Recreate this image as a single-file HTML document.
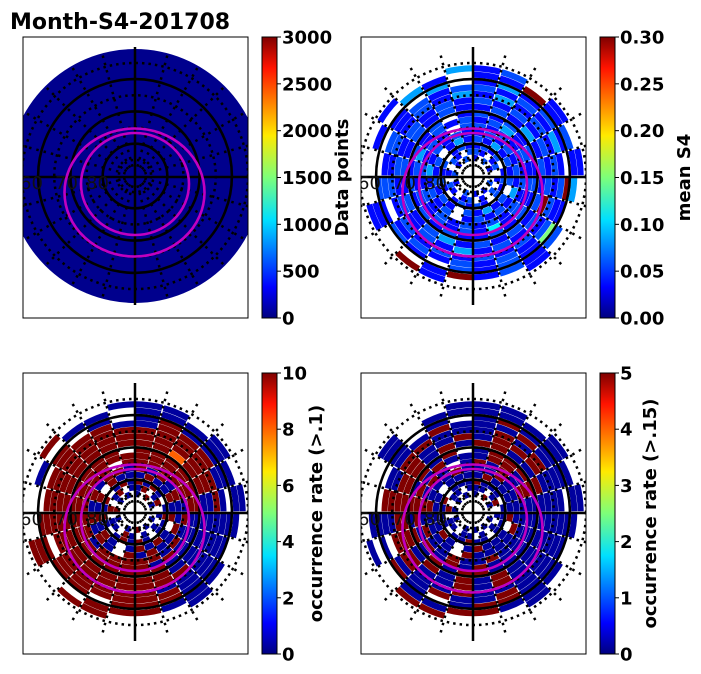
<!DOCTYPE html>
<html><head><meta charset="utf-8"><style>
html,body{margin:0;padding:0;background:#fff;}
svg{display:block;font-family:"DejaVu Sans","Liberation Sans",sans-serif;}
</style></head><body>
<svg id="chart" width="701" height="674" viewBox="0 0 701 674" xmlns="http://www.w3.org/2000/svg">
<defs>
<linearGradient id="jet" x1="0" y1="1" x2="0" y2="0">
<stop offset="0" stop-color="#000080"/><stop offset="0.11" stop-color="#0000ff"/><stop offset="0.35" stop-color="#00e0ff"/><stop offset="0.5" stop-color="#7dff7a"/><stop offset="0.65" stop-color="#ffea00"/><stop offset="0.89" stop-color="#ff1300"/><stop offset="1" stop-color="#800000"/>
</linearGradient>
<clipPath id="c0"><rect x="23" y="37" width="225" height="281"/></clipPath>
<clipPath id="c1"><rect x="361" y="37" width="225" height="281"/></clipPath>
<clipPath id="c2"><rect x="23" y="373" width="225" height="281"/></clipPath>
<clipPath id="c3"><rect x="361" y="373" width="225" height="281"/></clipPath>
</defs>
<text x="10" y="29" font-size="22" font-weight="bold">Month-S4-201708</text>
</svg>
<script>
// ---- data ----
const cbarTicks1 = ["0","500","1000","1500","2000","2500","3000"];
const cbarTicks2 = ["0.00","0.05","0.10","0.15","0.20","0.25","0.30"];
const cbarTicks3 = ["0","2","4","6","8","10"];
const cbarTicks4 = ["0","1","2","3","4","5"];
const cbarLabels = ["Data points","mean S4","occurrence rate (>.1)","occurrence rate (>.15)"];
const latLabels = ["60","70","80"];
const panel1Value = 40; // data points (nearly uniform, low)
const s4CodeValues = [0.0,0.02,0.04,0.06,0.085,0.11,0.15,0.2,0.25,0.3];
const occ1CodeValues = [0.3,1.1,2.2,3.3,4.4,5.6,6.7,7.8,8.9,10];
const occ2CodeValues = [0.15,0.55,1.1,1.7,2.2,2.8,3.3,3.9,4.4,5];
const meanS4Rings = [
"2.3.2..3.2.2.3..2.3.2.3.",
"32.23.2.3.2.32.23.2.32.3",
"2323.2323.23232.2323.232",
"3242323.32423.232323.242",
"2323232423232.3232423232",
"3232323232323232323232.3",
"234232323252323232342323",
"3232323232322323232323 2",
"232423232323243232323232",
"323232393232423232323232",
"242323232323232323232324",
"3232423232323232.3232323",
"24232.9262323.2323..2.4.",
"2292324.323292..2..2.42.",
"23.2.2...2...29.2...2..4"];
const occ1Rings = [
"0.9.0..0.0.9.0..0.9.0.0.",
"09.09.0.0.0.09.00.9.09.0",
"9090.0900.09090.0909.090",
"0900909.09090.090909.900",
"9090900900909.0909090990",
"9999909090999990999999.9",
"999999000909999999999999",
"99999900009999999999999 ",
"997990000099999999999999",
"999990000999999999999999",
"999999000009999999999999",
"0999000000999999.9999990",
"09000.0000999.9999..9.0.",
"0000000.000999..9..0.00.",
"00.0.0...0...99.9...9..0"];
const occ2Rings = [
"0.9.0..0.0.0.0..0.0.0.0.",
"00.09.0.0.0.00.00.9.00.0",
"9000.0000.00900.0009.000",
"0900009.00090.090000.000",
"0090000900009.0000900090",
"9090900000900900909090.0",
"099090000009090909990900",
"09999000000990909090909 ",
"990090000090909099999090",
"099900000090900999999009",
"090900000000900990909900",
"0090000000900900.0900090",
"09000.0000990.0900..0.0.",
"0000000.0009900..0..0.00",
"00.0.0...0...99.0...0..0"];
const panelMax = [3000, 0.30, 10, 5];

// ---- drawing ----
const NS="http://www.w3.org/2000/svg";
const svg=document.getElementById('chart');
function mk(tag,attrs,parent){const e=document.createElementNS(NS,tag);for(const k in attrs)e.setAttribute(k,attrs[k]);(parent||svg).appendChild(e);return e;}
function jet(t){t=Math.max(0,Math.min(1,t));
 const r=Math.max(0,Math.min(1,1.5-Math.abs(4*t-3)));
 const g=Math.max(0,Math.min(1,1.5-Math.abs(4*t-2)));
 const b=Math.max(0,Math.min(1,1.5-Math.abs(4*t-1)));
 return `rgb(${Math.round(r*255)},${Math.round(g*255)},${Math.round(b*255)})`;}
const panels=[{x:23,y:37,cx:135,cy:176},{x:361,y:37,cx:473,cy:176},{x:23,y:373,cx:135,cy:512},{x:361,y:373,cx:473,cy:512}];
const W=225,H=281;
const pxPerDeg=3.23;
function rOfLat(lat){return (90-lat)*pxPerDeg;}
function pt(cx,cy,r,a){const t=a*Math.PI/180;return [cx+r*Math.sin(t),cy-r*Math.cos(t)];}
function sector(cx,cy,r1,r2,a1,a2){
 const p1=pt(cx,cy,r2,a1),p2=pt(cx,cy,r2,a2),p3=pt(cx,cy,r1,a2),p4=pt(cx,cy,r1,a1);
 return `M${p1[0]},${p1[1]}A${r2},${r2} 0 0 1 ${p2[0]},${p2[1]}L${p3[0]},${p3[1]}A${r1},${r1} 0 0 0 ${p4[0]},${p4[1]}Z`;}
const ringInner=15, ringStep=6.4, ringThick=6.1, nSect=24;
const ringSets=[null,meanS4Rings,occ1Rings,occ2Rings];
const codeSets=[null,s4CodeValues,occ1CodeValues,occ2CodeValues];

panels.forEach((p,i)=>{
 const g=mk('g',{'clip-path':`url(#c${i})`});
 
 
 if(i===0){
  const d=mk('circle',{cx:p.cx,cy:p.cy,r:rOfLat(50.7),fill:jet(panel1Value/panelMax[0])},g);
  
  
 } else {
  const rings=ringSets[i];
  rings.forEach((row,ri)=>{
   for(let s=0;s<nSect;s++){
    const ch=row[s];
    if(!ch||ch==='.'||ch===' ')continue;
    const v=codeSets[i][parseInt(ch,10)];
    const r1=ringInner+ri*ringStep, r2=r1+ringThick;
    const a1=s*360/nSect+0.4, a2=(s+1)*360/nSect-0.4;
    const e=mk('path',{d:sector(p.cx,p.cy,r1,r2,a1,a2),fill:jet(v/panelMax[i])},g);
    
    
   }
  });
 }
 [85,75,65,55].forEach(lat=>{
  const c=mk('circle',{cx:p.cx,cy:p.cy,r:rOfLat(lat),fill:'none',stroke:'#000','stroke-width':2.5,'stroke-dasharray':'2.5 4'},g);
  
  
 });
 for(let a=15;a<360;a+=15){
  if(a%90===0)continue;
  const q1=pt(p.cx,p.cy,rOfLat(87),a),q2=pt(p.cx,p.cy,rOfLat(50.3),a);
  const l=mk('line',{x1:q1[0],y1:q1[1],x2:q2[0],y2:q2[1],stroke:'#000','stroke-width':2.5,'stroke-dasharray':'2.5 5'},g);
  
  
 }
 [80,70,60].forEach(lat=>{
  const c=mk('circle',{cx:p.cx,cy:p.cy,r:rOfLat(lat),fill:'none',stroke:'#000','stroke-width':2.6},g);
  
  
 });
 const v=mk('line',{x1:p.cx,y1:p.cy-129,x2:p.cx,y2:p.cy+129,stroke:'#000','stroke-width':2.5},g);
 
 
 const h=mk('line',{x1:p.x,y1:p.cy+1,x2:p.x+W,y2:p.cy+1,stroke:'#000','stroke-width':2.5},g);
 
 
 const m1=mk('ellipse',{cx:p.cx-0.5,cy:p.cy+16.5,rx:70,ry:64,fill:'none',stroke:'#c000c0','stroke-width':2.6},g);
 
 
 const m2=mk('ellipse',{cx:p.cx,cy:p.cy+8,rx:54,ry:51,fill:'none',stroke:'#c000c0','stroke-width':2.6},g);
 
 
 const lx=[p.x-3,p.x+32,p.x+63];
 latLabels.forEach((t,k)=>{
  const e=mk('text',{x:lx[k],y:p.cy+13,'font-size':18,fill:'#111'},g);
  e.textContent=t;
  
  
 });
 const f=mk('rect',{x:p.x,y:p.y,width:W,height:H,fill:'none',stroke:'#000','stroke-width':1});
 
 
});

const cbX=[262,600,262,600], cbY=[37,37,373,373];
const tickSets=[cbarTicks1,cbarTicks2,cbarTicks3,cbarTicks4];
const labelX=[348,690,322,656];
for(let i=0;i<4;i++){
 const r=mk('rect',{x:cbX[i],y:cbY[i],width:15,height:H,fill:'url(#jet)',stroke:'#000','stroke-width':1});
 
 
 const ticks=tickSets[i];
 ticks.forEach((t,k)=>{
  const y=cbY[i]+H-k*H/(ticks.length-1);
  const tl=mk('line',{x1:cbX[i]+15,y1:y,x2:cbX[i]+19,y2:y,stroke:'#000','stroke-width':1});
  
  
  const tx=mk('text',{x:cbX[i]+20,y:y+6.5,'font-size':18,'font-weight':'bold'});
  tx.textContent=t;
  
  
 });
 const cy=cbY[i]+H/2;
 const lb=mk('text',{x:labelX[i],y:cy,'font-size':18,'font-weight':'bold','text-anchor':'middle',transform:`rotate(-90 ${labelX[i]} ${cy})`});
 lb.textContent=cbarLabels[i];
 
 
}
</script>
</body></html>
